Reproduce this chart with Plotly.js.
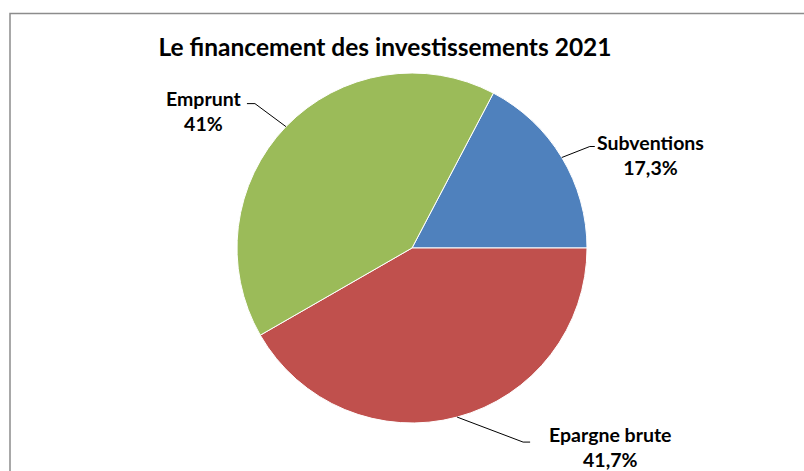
<!DOCTYPE html>
<html>
<head>
<meta charset="utf-8">
<script src="https://cdn.plot.ly/plotly-3.0.1.min.js"></script>
<style>html,body{margin:0;padding:0;background:#fff;}#chart{width:804px;height:471px;}</style>
</head>
<body>
<div id="chart"></div>
<script>
// Data
const categories = ["Subventions", "Epargne brute", "Emprunt"];
const values = [17.3, 41.7, 41];
const valueLabels = ["17,3%", "41,7%", "41%"];
const colors = ["#4F81BD", "#C0504D", "#9BBB59"];

// Layout constants (pixels)
const W = 804, H = 471;
const CX = 412, CY = 248, R = 175;
const FONT = "Lato, 'Open Sans', sans-serif";
// leader-line elbow / end offsets and label offsets, relative to slice edge point (px)
const leaderStyle = [
  {elbow: [28, -11], end: [33, -11], label: [89, -3]},
  {elbow: [66, 25], end: [73, 25], label: [153, 30]},
  {elbow: [-31, -23], end: [-39, -23], label: [-82, -16]}
];

const total = values.reduce((a, b) => a + b, 0);
const rotation = 90 - 360 * values[0] / total;

const px = x => x / W;
const py = y => 1 - y / H;

const shapes = [{
  type: "rect", xref: "paper", yref: "paper",
  x0: px(10), y0: py(13.5), x1: 1.2, y1: -0.2,
  line: {color: "#8c8c8c", width: 1.5}, fillcolor: "rgba(0,0,0,0)"
}];
const annotations = [];
let cum = 0;
values.forEach((v, i) => {
  const midClock = rotation + 360 * (cum + v / 2) / total;
  cum += v;
  const theta = (90 - midClock) * Math.PI / 180;
  const ex = CX + R * Math.cos(theta), ey = CY - R * Math.sin(theta);
  const s = leaderStyle[i];
  const bx = ex + s.elbow[0], by = ey + s.elbow[1];
  const tx = ex + s.end[0], ty = ey + s.end[1];
  shapes.push({
    type: "path", xref: "paper", yref: "paper",
    path: `M ${px(ex)} ${py(ey)} L ${px(bx)} ${py(by)} L ${px(tx)} ${py(ty)}`,
    line: {color: "#000000", width: 1}
  });
  annotations.push({
    xref: "paper", yref: "paper",
    x: px(ex + s.label[0]), y: py(ey + s.label[1]),
    xanchor: "center", yanchor: "middle",
    text: `<b>${categories[i]}</b><br><b>${valueLabels[i]}</b>`,
    showarrow: false, align: "center",
    font: {family: FONT, size: 19.5, color: "#000"}
  });
});

const trace = {
  type: "pie",
  labels: categories,
  values: values,
  sort: false,
  direction: "clockwise",
  rotation: rotation,
  marker: {colors: colors, line: {color: "#ffffff", width: 1}},
  textinfo: "none",
  hoverinfo: "label+percent",
  domain: {x: [px(CX - R), px(CX + R)], y: [py(CY + R), py(CY - R)]},
  showlegend: false
};

const layout = {
  width: W, height: H,
  margin: {l: 0, r: 0, t: 0, b: 0},
  paper_bgcolor: "#ffffff",
  title: {
    text: "<b>Le financement des investissements 2021</b>",
    font: {family: FONT, size: 24.5, color: "#000"},
    x: px(385), xanchor: "center", xref: "paper",
    y: py(47), yanchor: "middle", yref: "paper"
  },
  shapes: shapes,
  annotations: annotations
};

Plotly.newPlot("chart", [trace], layout, {displayModeBar: false, staticPlot: true});
</script>
</body>
</html>
